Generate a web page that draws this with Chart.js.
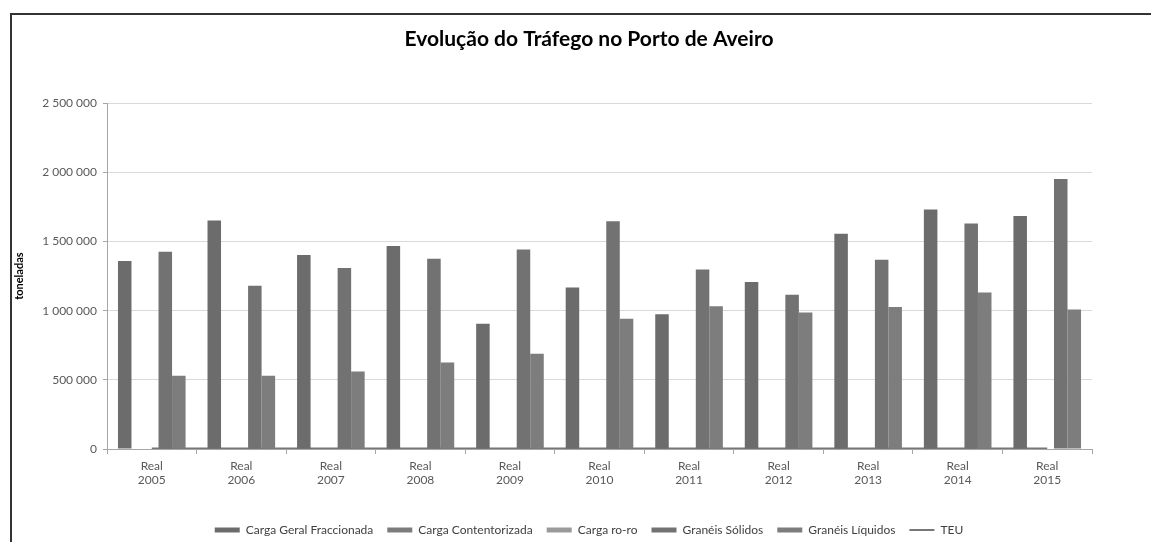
<!DOCTYPE html>
<html>
<head>
<meta charset="utf-8">
<script src="https://cdn.jsdelivr.net/npm/chart.js@4/dist/chart.umd.min.js"></script>
<style>
  html, body { margin: 0; padding: 0; background: #fff; }
  #wrap { width: 1151px; height: 542px; }
</style>
</head>
<body>
<div id="wrap"><canvas id="trafego"></canvas></div>
<script>
// dados (toneladas)
const anos = ['2005', '2006', '2007', '2008', '2009', '2010', '2011', '2012', '2013', '2014', '2015'];
const cargaGeral = [1360000, 1652000, 1402000, 1467000, 905000, 1168000, 975000, 1207000, 1556000, 1732000, 1684000];
const cargaContentorizada = [0, 0, 0, 0, 0, 0, 0, 0, 0, 0, 0];
const cargaRoRo = [0, 0, 0, 0, 0, 0, 0, 0, 0, 0, 0];
const graneisSolidos = [1426000, 1180000, 1308000, 1375000, 1443000, 1647000, 1298000, 1115000, 1368000, 1631000, 1953000];
const graneisLiquidos = [530000, 530000, 561000, 626000, 689000, 942000, 1033000, 987000, 1026000, 1132000, 1009000];
const teu = [3000, 3000, 3000, 3000, 3000, 3000, 3000, 3000, 3000, 3000, 3000];
const yTicks = [0, 500000, 1000000, 1500000, 2000000, 2500000];

const fonte = 'Lato, "Open Sans", sans-serif';

function formatNum(v) {
  return String(v).replace(/\B(?=(\d{3})+(?!\d))/g, ' ');
}

// moldura (linhas de cima e da esquerda)
const moldura = {
  id: 'moldura',
  beforeDraw(chart) {
    const ctx = chart.ctx;
    ctx.save();
    ctx.fillStyle = '#fff';
    ctx.fillRect(0, 0, chart.width, chart.height);
    ctx.strokeStyle = '#333';
    ctx.lineWidth = 2;
    ctx.beginPath();
    ctx.moveTo(11, chart.height);
    ctx.lineTo(11, 14);
    ctx.lineTo(chart.width, 14);
    ctx.stroke();
    ctx.restore();
  }
};

const ctx = document.getElementById('trafego').getContext('2d');
new Chart(ctx, {
  type: 'bar',
  data: {
    labels: anos.map(a => ['Real', a]),
    datasets: [
      { label: 'Carga Geral Fraccionada', data: cargaGeral, backgroundColor: '#6c6c6c' },
      { label: 'Carga Contentorizada', data: cargaContentorizada, backgroundColor: '#7c7c7c' },
      { label: 'Carga ro-ro', data: cargaRoRo, backgroundColor: '#9a9a9a' },
      { label: 'Granéis Sólidos', data: graneisSolidos, backgroundColor: '#727272' },
      { label: 'Granéis Líquidos', data: graneisLiquidos, backgroundColor: '#7d7d7d' },
      {
        type: 'line', label: 'TEU', data: teu,
        borderColor: '#777', backgroundColor: '#777',
        borderWidth: 2, pointRadius: 0, tension: 0
      }
    ]
  },
  options: {
    responsive: true,
    maintainAspectRatio: false,
    animation: false,
    categoryPercentage: 0.755,
    barPercentage: 1,
    layout: { padding: { left: 27, right: 0, top: 0, bottom: -4 } },
    scales: {
      x: {
        offset: true,
        grid: { drawOnChartArea: false, drawTicks: true, tickLength: 5, tickColor: '#a6a6a6' },
        border: { color: '#a6a6a6' },
        ticks: { color: '#595959', font: { family: fonte, size: 12 }, padding: 5, maxRotation: 0 },
        afterFit(scale) { scale.height = 61; }
      },
      y: {
        min: 0,
        max: 2500000,
        afterBuildTicks(scale) { scale.ticks = yTicks.map(v => ({ value: v })); },
        grid: { color: '#d9d9d9', tickLength: 4, tickColor: '#a6a6a6' },
        border: { color: '#a6a6a6' },
        ticks: {
          color: '#595959', font: { family: fonte, size: 12 }, padding: 6,
          callback: v => formatNum(v)
        },
        title: {
          display: true, text: 'toneladas', color: '#000',
          font: { family: fonte, size: 11, weight: 'bold' },
          padding: { top: -14, bottom: 0 }
        },
        afterFit(scale) { scale.width = 80; }
      },
      margemDireita: {
        position: 'right',
        display: true,
        grid: { display: false, drawTicks: false },
        border: { display: false },
        ticks: { display: false },
        afterFit(scale) { scale.width = 59; }
      }
    },
    plugins: {
      title: {
        display: true,
        text: 'Evolução do Tráfego no Porto de Aveiro',
        color: '#000',
        font: { family: fonte, size: 21, weight: 'bold', lineHeight: 1.25 },
        padding: { top: 26, bottom: 51 }
      },
      legend: {
        position: 'bottom',
        labels: {
          color: '#404040',
          font: { family: fonte, size: 12 },
          boxWidth: 25,
          boxHeight: 5,
          usePointStyle: true,
          pointStyleWidth: 25,
          padding: 14,
          generateLabels(chart) {
            const items = Chart.defaults.plugins.legend.labels.generateLabels(chart);
            items.forEach(it => {
              if (it.text === 'TEU') {
                it.pointStyle = 'line';
                it.strokeStyle = '#777';
                it.lineWidth = 2;
              } else {
                it.pointStyle = 'rect';
                it.lineWidth = 0;
              }
            });
            return items;
          }
        }
      },
      tooltip: { enabled: false }
    }
  },
  plugins: [moldura]
});
</script>
</body>
</html>
